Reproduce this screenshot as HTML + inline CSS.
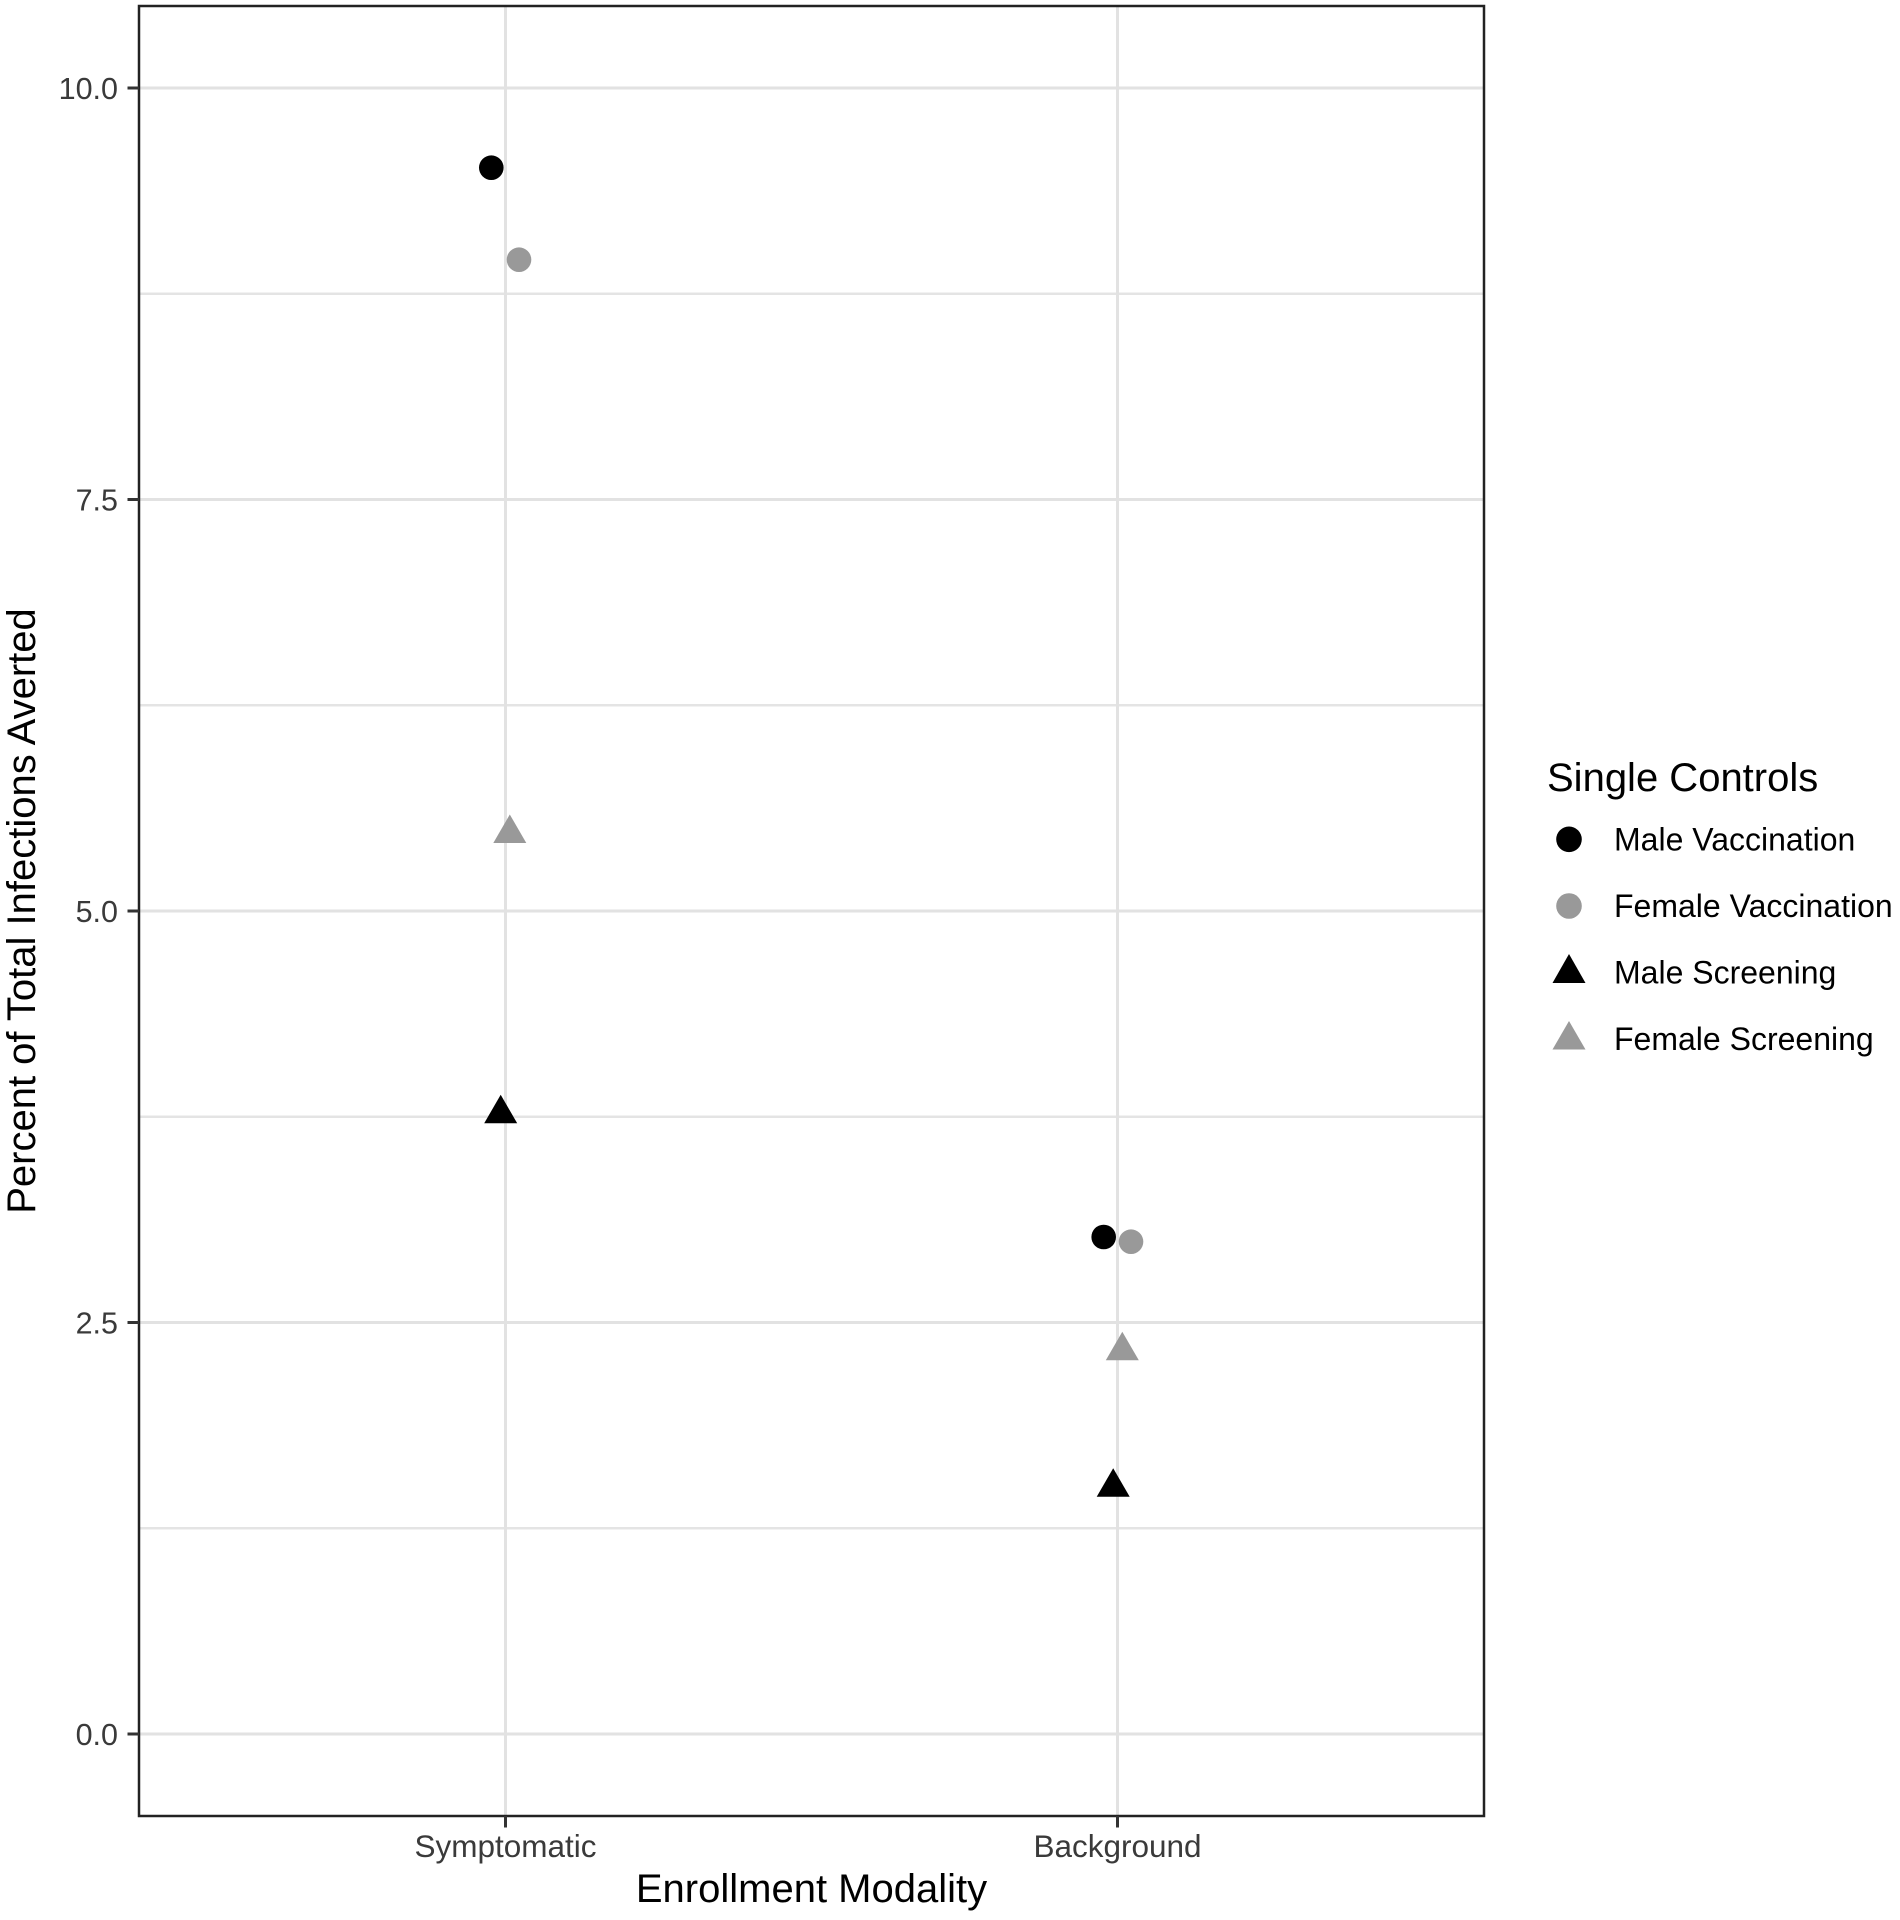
<!DOCTYPE html>
<html>
<head>
<meta charset="utf-8">
<style>
html,body{margin:0;padding:0;background:#fff;}
svg{display:block;}
text{font-family:"Liberation Sans",Arial,Helvetica,sans-serif;}
</style>
</head>
<body>
<svg width="1900" height="1920" viewBox="0 0 1900 1920" xmlns="http://www.w3.org/2000/svg">
<rect x="0" y="0" width="1900" height="1920" fill="#ffffff"/>
<!-- minor gridlines -->
<g stroke="#e4e4e4" stroke-width="2.5">
<line x1="139" y1="293.75" x2="1484" y2="293.75"/>
<line x1="139" y1="705.25" x2="1484" y2="705.25"/>
<line x1="139" y1="1116.75" x2="1484" y2="1116.75"/>
<line x1="139" y1="1528.25" x2="1484" y2="1528.25"/>
</g>
<!-- major gridlines -->
<g stroke="#e2e2e2" stroke-width="3">
<line x1="139" y1="88" x2="1484" y2="88"/>
<line x1="139" y1="499.5" x2="1484" y2="499.5"/>
<line x1="139" y1="911" x2="1484" y2="911"/>
<line x1="139" y1="1322.5" x2="1484" y2="1322.5"/>
<line x1="139" y1="1734" x2="1484" y2="1734"/>
<line x1="505.5" y1="6" x2="505.5" y2="1816"/>
<line x1="1117.5" y1="6" x2="1117.5" y2="1816"/>
</g>
<!-- points -->
<circle cx="491.3" cy="167.7" r="12.3" fill="#000000"/>
<circle cx="519" cy="259.7" r="12.3" fill="#999999"/>
<circle cx="1103.7" cy="1237" r="12.3" fill="#000000"/>
<circle cx="1131" cy="1241.7" r="12.3" fill="#999999"/>
<!-- triangles: apex r=19 above center, base 9.5 below, half width 16.5 -->
<polygon points="509.8,814.5 526.3,843 493.3,843" fill="#999999"/>
<polygon points="500.7,1094.8 517.2,1123.3 484.2,1123.3" fill="#000000"/>
<polygon points="1122.3,1331.8 1138.8,1360.3 1105.8,1360.3" fill="#999999"/>
<polygon points="1113.2,1468.2 1129.7,1496.7 1096.7,1496.7" fill="#000000"/>
<!-- panel border -->
<rect x="139" y="6" width="1345" height="1810" fill="none" stroke="#222222" stroke-width="2.5"/>
<!-- y ticks -->
<g stroke="#333333" stroke-width="3">
<line x1="127.5" y1="88" x2="139" y2="88"/>
<line x1="127.5" y1="499.5" x2="139" y2="499.5"/>
<line x1="127.5" y1="911" x2="139" y2="911"/>
<line x1="127.5" y1="1322.5" x2="139" y2="1322.5"/>
<line x1="127.5" y1="1734" x2="139" y2="1734"/>
<line x1="505.5" y1="1816" x2="505.5" y2="1827.5"/>
<line x1="1117.5" y1="1816" x2="1117.5" y2="1827.5"/>
</g>
<!-- y tick labels -->
<g fill="#3a3a3a" font-size="30.5" text-anchor="end">
<text x="118" y="99">10.0</text>
<text x="118" y="510.5">7.5</text>
<text x="118" y="922">5.0</text>
<text x="118" y="1333.5">2.5</text>
<text x="118" y="1745">0.0</text>
</g>
<!-- x tick labels -->
<g fill="#3a3a3a" font-size="31.5" text-anchor="middle">
<text x="505.5" y="1857">Symptomatic</text>
<text x="1117.5" y="1857">Background</text>
</g>
<!-- axis titles -->
<text x="811.5" y="1902" font-size="40" text-anchor="middle" fill="#000000">Enrollment Modality</text>
<text transform="translate(35,911) rotate(-90)" x="0" y="0" font-size="40" text-anchor="middle" fill="#000000">Percent of Total Infections Averted</text>
<!-- legend -->
<text x="1547" y="791" font-size="40" fill="#000000">Single Controls</text>
<circle cx="1569" cy="839.3" r="12.8" fill="#000000"/>
<circle cx="1569" cy="906" r="12.8" fill="#999999"/>
<polygon points="1569,954 1585.5,983 1552.5,983" fill="#000000"/>
<polygon points="1569,1021 1585.5,1049.5 1552.5,1049.5" fill="#999999"/>
<g fill="#000000" font-size="32">
<text x="1614" y="850.5">Male Vaccination</text>
<text x="1614" y="917">Female Vaccination</text>
<text x="1614" y="983.5">Male Screening</text>
<text x="1614" y="1050">Female Screening</text>
</g>
</svg>
</body>
</html>
